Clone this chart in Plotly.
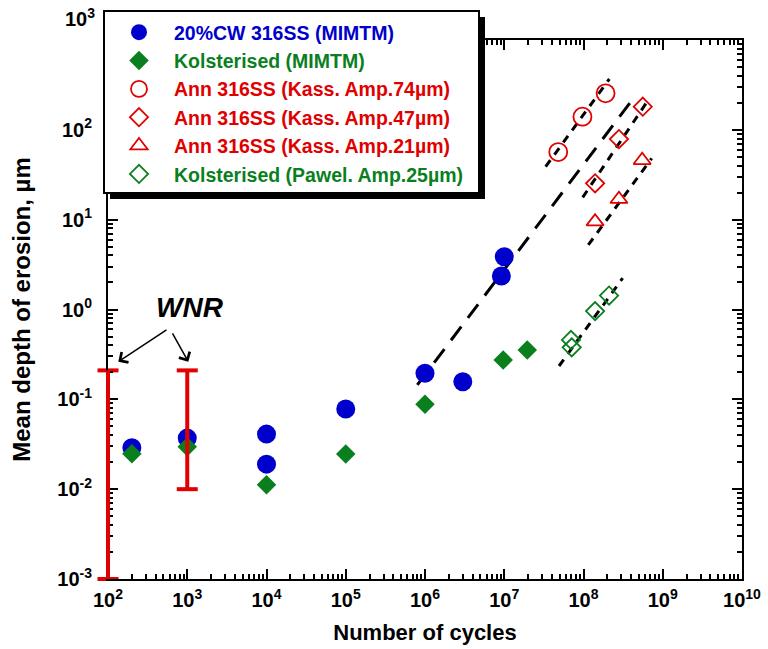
import plotly.graph_objects as go

# ---------------- data ----------------
cw_x = [200, 1e3, 1e4, 1e4, 1e5, 1e6, 3e6, 9.2e6, 1e7]
cw_y = [0.029, 0.037, 0.041, 0.019, 0.078, 0.195, 0.157, 2.36, 3.87]

kol_x = [200, 1e3, 1e4, 1e5, 1e6, 9.7e6, 1.95e7]
kol_y = [0.0248, 0.0297, 0.0112, 0.0246, 0.088, 0.274, 0.354]

ann74_x = [4.8e7, 9.7e7, 1.9e8]
ann74_y = [56.6, 140, 255]

ann47_x = [1.4e8, 2.8e8, 5.6e8]
ann47_y = [25.4, 79, 181]

ann21_x = [1.4e8, 2.8e8, 5.5e8]
ann21_y = [9.5, 16.9, 45.8]

pawel_x = [6.95e7, 7.1e7, 1.4e8, 2.1e8]
pawel_y = [0.458, 0.379, 0.96, 1.43]

# trend lines (end points)
fit_cw_x = [8.0e5, 4.25e8]
fit_cw_y = [0.1445, 224]
fit74_x = [3.33e7, 2.12e8]
fit74_y = [38.9, 368]
fit47_x = [9.77e7, 6.57e8]
fit47_y = [17.7, 215]
fit21_x = [1.15e8, 7.26e8]
fit21_y = [5.23, 48.2]
fitpw_x = [4.91e7, 3.12e8]
fitpw_y = [0.235, 2.23]

# WNR ranges
wnr_x = [1e2, 1e3]
wnr_top = [0.21, 0.21]
wnr_bottom = [0.001, 0.01]

x_exps = list(range(2, 11))
y_exps = list(range(-3, 3))
x_range = [2, 10]
y_range = [-3, 3]

# ---------------- styling ----------------
BLUE = "#0000cc"
GREEN = "#0a7f1e"
RED = "#e00000"
FONT = "Liberation Sans"

L, R, T, B = 108, 26, 40, 70
W, H = 768, 649
PW, PH = W - L - R, H - T - B


def px_x(p):
    return (p - L) / PW


def px_y(p):
    return (H - B - p) / PH


def lbl(name, color):
    return f"<span style='color:{color}'>{name}</span>"


fig = go.Figure()

# trend lines
for fx, fy, dash in [
    (fit_cw_x, fit_cw_y, "17px,11px"),
    (fit74_x, fit74_y, "8px,7px"),
    (fit47_x, fit47_y, "8px,7px"),
    (fit21_x, fit21_y, "8px,7px"),
    (fitpw_x, fitpw_y, "8px,7px"),
]:
    fig.add_trace(go.Scatter(x=fx, y=fy, mode="lines", showlegend=False,
                             line=dict(color="black", width=3, dash=dash),
                             hoverinfo="skip"))

# WNR bars: vertical strokes as shapes (bar on the axis edge uses the domain ref so it is not clipped)
for xv, yt, yb in zip(wnr_x, wnr_top, wnr_bottom):
    at_edge = abs(xv - 10 ** x_range[0]) < 1e-9
    fig.add_shape(type="line",
                  xref="x domain" if at_edge else "x",
                  x0=0 if at_edge else xv, x1=0 if at_edge else xv,
                  yref="y", y0=yb, y1=yt,
                  line=dict(color=RED, width=4), layer="above")

# WNR caps as markers (not clipped by the axes)
fig.add_trace(go.Scatter(
    x=wnr_x + wnr_x, y=wnr_top + wnr_bottom, mode="markers", showlegend=False,
    cliponaxis=False, hoverinfo="skip",
    marker=dict(symbol="line-ew", size=15, color=RED, line=dict(color=RED, width=4)),
))

fig.add_trace(go.Scatter(x=cw_x, y=cw_y, mode="markers", name=lbl("20%CW 316SS (MIMTM)", BLUE),
                         marker=dict(symbol="circle", size=19, color=BLUE)))
fig.add_trace(go.Scatter(x=kol_x, y=kol_y, mode="markers", name=lbl("Kolsterised (MIMTM)", GREEN),
                         marker=dict(symbol="diamond", size=15, color=GREEN)))
fig.add_trace(go.Scatter(x=ann74_x, y=ann74_y, mode="markers", name=lbl("Ann 316SS (Kass. Amp.74µm)", RED),
                         marker=dict(symbol="circle-open", size=18, color=RED, line=dict(width=1.8))))
fig.add_trace(go.Scatter(x=ann47_x, y=ann47_y, mode="markers", name=lbl("Ann 316SS (Kass. Amp.47µm)", RED),
                         marker=dict(symbol="diamond-open", size=14, color=RED, line=dict(width=1.8))))
fig.add_trace(go.Scatter(x=ann21_x, y=ann21_y, mode="markers", name=lbl("Ann 316SS (Kass. Amp.21µm)", RED),
                         marker=dict(symbol="triangle-up-open", size=15, color=RED, line=dict(width=1.8))))
fig.add_trace(go.Scatter(x=pawel_x, y=pawel_y, mode="markers", name=lbl("Kolsterised (Pawel. Amp.25µm)", GREEN),
                         marker=dict(symbol="diamond-open", size=14, color=GREEN, line=dict(width=1.8))))

x_minor = [m * 10 ** k for k in range(2, 10) for m in range(2, 10)]
y_minor = [m * 10 ** k for k in range(-3, 3) for m in range(2, 10)]

axis_common = dict(
    type="log", showline=True, linecolor="black", linewidth=2, mirror="allticks",
    ticks="inside", ticklen=10, tickwidth=1.5, tickcolor="black",
    showgrid=False, zeroline=False, automargin=False,
    tickfont=dict(family=FONT, size=20, color="black", weight="bold"),
)

fig.update_layout(
    width=W, height=H,
    margin=dict(l=L, r=R, t=T, b=B),
    paper_bgcolor="white", plot_bgcolor="white",
    font=dict(family=FONT, color="black", weight="bold"),
    xaxis=dict(
        **axis_common, range=x_range,
        tickmode="array",
        tickvals=[10 ** k for k in x_exps],
        ticktext=[f"10<sup>{k}</sup>" for k in x_exps],
        minor=dict(tickmode="array", tickvals=x_minor, ticks="inside", ticklen=5,
                   tickwidth=1.5, tickcolor="black", showgrid=False),
        ticklabelstandoff=2,
        title=dict(text="Number of cycles", font=dict(family=FONT, size=22, weight="bold"), standoff=15),
    ),
    yaxis=dict(
        **axis_common, range=y_range,
        tickmode="array",
        tickvals=[10 ** k for k in y_exps],
        ticktext=[f"10<sup>{k}</sup>" for k in y_exps],
        minor=dict(tickmode="array", tickvals=y_minor, ticks="inside", ticklen=5,
                   tickwidth=1.5, tickcolor="black", showgrid=False),
        ticklabelstandoff=10,
        title=dict(text="Mean depth of erosion, µm", font=dict(family=FONT, size=24, weight="bold"), standoff=20),
    ),
    legend=dict(
        x=px_x(104), y=px_y(13), xanchor="left", yanchor="top",
        bgcolor="rgba(0,0,0,0)", borderwidth=0,
        font=dict(family=FONT, size=19.5, weight="bold"),
        itemwidth=60,
    ),
    showlegend=True,
)

# legend box with drop shadow (drawn as shapes, legend entries sit on top)
fig.add_shape(type="rect", xref="paper", yref="paper",
              x0=px_x(110), x1=px_x(485), y0=px_y(199), y1=px_y(17),
              fillcolor="black", line=dict(width=0), layer="above")
fig.add_shape(type="rect", xref="paper", yref="paper",
              x0=px_x(104), x1=px_x(479), y0=px_y(193), y1=px_y(11),
              fillcolor="white", line=dict(color="black", width=2), layer="above")

# top "10^3" label sits above its tick in the reference
fig.add_annotation(xref="paper", yref="paper", x=px_x(97), y=px_y(18),
                   xanchor="right", yanchor="middle", showarrow=False,
                   text="10<sup>3</sup>", font=dict(family=FONT, size=20, weight="bold"))

# WNR label and arrows (log-axis coordinates)
fig.add_annotation(x=3.035, y=0.017, xref="x", yref="y", text="<i>WNR</i>", showarrow=False,
                   font=dict(family=FONT, size=28, weight="bold"))
for tip_x in [2.13, 3.013]:
    fig.add_annotation(x=tip_x, y=-0.581, ax=2.776, ay=-0.206, xref="x", yref="y",
                       axref="x", ayref="y", text=" ", showarrow=True,
                       arrowhead=4, arrowsize=1.6, arrowwidth=1.5, arrowcolor="black")

fig.write_html("out.html")
